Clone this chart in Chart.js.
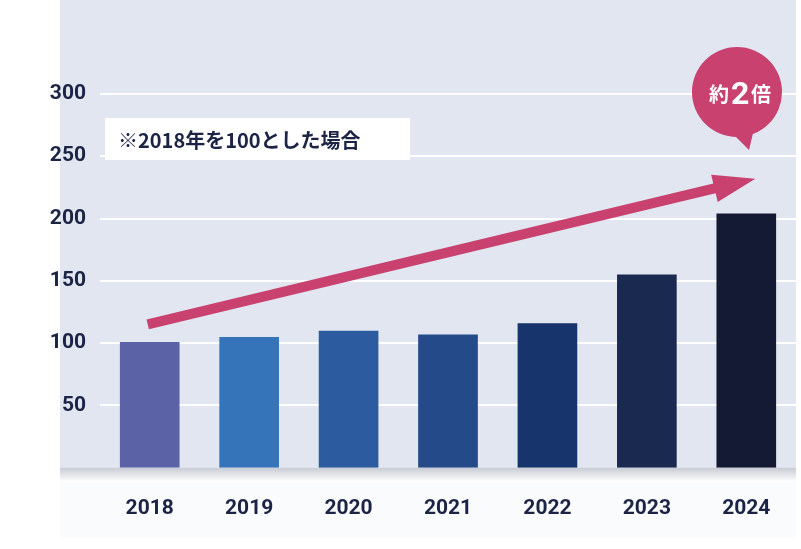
<!DOCTYPE html>
<html><head><meta charset="utf-8">
<script src="https://cdn.jsdelivr.net/npm/chart.js@4"></script>
<style>html,body{margin:0;background:#fff}#wrap{width:801px;height:549px}</style>
</head><body><div id="wrap"><canvas id="c"></canvas></div>
<script>
const years = ['2018', '2019', '2020', '2021', '2022', '2023', '2024'];
const values = [101, 105, 110, 107, 116, 155, 204];
const barColors = ['#5b62a6', '#3574b9', '#2c5c9f', '#244a8a', '#17346c', '#1a2950', '#141a34'];
const yTicks = [50, 100, 150, 200, 250, 300];
const note = '※2018年を100とした場合';

// background, shadow, note box, arrow and callout
const decor = {
    id: 'decor',
    beforeDraw(chart) {
        const {ctx, chartArea: a} = chart;
        ctx.save();
        ctx.fillStyle = '#e1e6f0';
        ctx.fillRect(60, 0, a.right - 60, a.bottom);
        const g = ctx.createLinearGradient(0, a.bottom, 0, a.bottom + 14);
        g.addColorStop(0, 'rgba(120,125,150,0.4)');
        g.addColorStop(1, 'rgba(120,125,150,0)');
        ctx.fillStyle = g;
        ctx.fillRect(60, a.bottom, a.right - 60, 14);
        ctx.fillStyle = '#fafbfd';
        ctx.fillRect(60, a.bottom + 14, a.right - 60, 55);
        ctx.restore();
    },
    afterDatasetsDraw(chart) {
        const {ctx, scales: {x, y}} = chart;
        ctx.save();
        // note box
        ctx.fillStyle = '#fff';
        ctx.fillRect(105, 118, 305, 42);
        ctx.fillStyle = '#1c2446';
        ctx.font = 'bold 20px "Noto Sans CJK JP"';
        ctx.textBaseline = 'middle';
        ctx.fillText(note, 118, 140);
        // arrow
        const x0 = x.getPixelForValue(0) - 2, y0 = y.getPixelForValue(115);
        const x1 = x.getPixelForValue(6) + 9, y1 = y.getPixelForValue(232);
        const ang = Math.atan2(y1 - y0, x1 - x0);
        const hl = 42, hw = 14, sw = 5;
        const bx = x1 - hl * Math.cos(ang), by = y1 - hl * Math.sin(ang);
        const nx = -Math.sin(ang), ny = Math.cos(ang);
        ctx.fillStyle = '#c8416f';
        ctx.beginPath();
        ctx.moveTo(x0 + nx * sw, y0 + ny * sw);
        ctx.lineTo(bx + nx * sw, by + ny * sw);
        ctx.lineTo(bx + nx * hw, by + ny * hw);
        ctx.lineTo(x1, y1);
        ctx.lineTo(bx - nx * hw, by - ny * hw);
        ctx.lineTo(bx - nx * sw, by - ny * sw);
        ctx.lineTo(x0 - nx * sw, y0 - ny * sw);
        ctx.closePath();
        ctx.fill();
        // callout
        const cx = 737, cy = 92, r = 45;
        ctx.beginPath();
        ctx.arc(cx, cy, r, 0, Math.PI * 2);
        ctx.fill();
        ctx.beginPath();
        ctx.moveTo(cx - 5, cy + r - 4);
        ctx.lineTo(cx + 17, cy + r - 8);
        ctx.lineTo(cx + 12, cy + r + 13);
        ctx.closePath();
        ctx.fill();
        ctx.fillStyle = '#fff';
        ctx.textBaseline = 'alphabetic';
        ctx.font = 'bold 20px "Noto Sans CJK JP"';
        ctx.fillText('約', 709, 102);
        ctx.font = 'bold 32px Roboto';
        ctx.fillText('2', 731, 104);
        ctx.font = 'bold 20px "Noto Sans CJK JP"';
        ctx.fillText('倍', 751, 102);
        ctx.restore();
    }
};

new Chart(document.getElementById('c'), {
    type: 'bar',
    data: {
        labels: years,
        datasets: [{
            data: values,
            backgroundColor: barColors,
            barPercentage: 0.6,
            categoryPercentage: 1
        }]
    },
    options: {
        responsive: true,
        maintainAspectRatio: false,
        animation: false,
        layout: {padding: {top: -25, right: 5, bottom: 8, left: 40}},
        plugins: {legend: {display: false}, tooltip: {enabled: false}},
        scales: {
            x: {
                grid: {display: false},
                border: {display: false},
                ticks: {color: '#1c2446', padding: 20, font: {family: 'Roboto', weight: 'bold', size: 21}}
            },
            y: {
                min: 0,
                max: 354,
                afterBuildTicks(s) { s.ticks = yTicks.map(v => ({value: v})); },
                afterFit(s) { s.width = 60; },
                grid: {color: '#ffffff', lineWidth: 2, drawTicks: false},
                border: {display: false},
                ticks: {color: '#1c2446', padding: 14, font: {family: 'Roboto', weight: 'bold', size: 21}}
            }
        }
    },
    plugins: [decor]
});
</script>
</body></html>
